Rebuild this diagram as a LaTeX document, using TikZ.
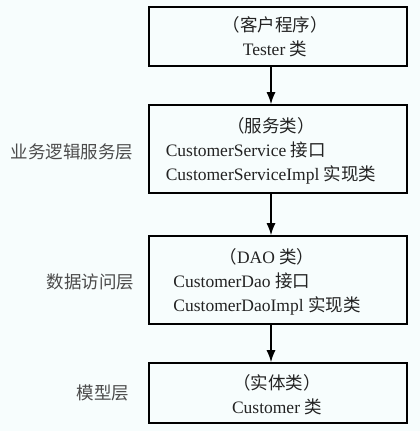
\documentclass[tikz,border=0pt]{standalone}
\usepackage{fontspec}
\setmainfont{Liberation Serif}
\newfontfamily\cjk{Noto Sans CJK SC}
\usetikzlibrary{positioning,arrows.meta}

\newcommand{\zh}[1]{{\cjk #1}}
\definecolor{bgtint}{RGB}{247,253,253}
\definecolor{inkgray}{RGB}{35,35,35}
\definecolor{labelgray}{RGB}{75,75,75}

\tikzset{
  layerbox/.style={rectangle,
      draw = black,
      line width = 1.6pt,
      minimum width = 258pt,
      inner sep = 0pt},
  boxtext/.style={inner sep = 0pt,
      text = inkgray,
      font = \fontsize{17.5}{24}\selectfont},
  layername/.style={inner sep = 0pt,
      text = labelgray,
      font = \fontsize{17.5}{24}\selectfont},
  flow/.style={-{Latex[length=12pt,width=9pt]}, line width = 1.4pt},
}

\begin{document}
\begin{tikzpicture}[x=1pt,y=-1pt]
  % background and size of the page
  \fill[bgtint] (0,0) rectangle (420,431);
  \useasboundingbox (0,0) rectangle (420,431);

  % the four layers, top to bottom
  \node[layerbox, minimum height = 59pt] (client) at (278,36.5) {};
  \node[layerbox, minimum height = 88pt] (service) at (278,149) {};
  \node[layerbox, minimum height = 88pt] (dao) at (278,280) {};
  \node[layerbox, minimum height = 60pt] (model) at (278,393) {};

  % texts inside the boxes
  \node[boxtext] (clienttxt) at (275,38.5) {%
    \begin{tabular}{@{}c@{}}
      \zh{（客户程序）}\\
      Tester \zh{类}
    \end{tabular}};
  \node[boxtext] (servicetxt) at (271,152) {%
    \begin{tabular}{@{}l@{}}
      \multicolumn{1}{@{}c@{}}{\zh{（服务类）}}\\
      CustomerService \zh{接口}\\
      CustomerServiceImpl \zh{实现类}
    \end{tabular}};
  \node[boxtext] (daotxt) at (267,283) {%
    \begin{tabular}{@{}l@{}}
      \multicolumn{1}{@{}c@{}}{\zh{（}DAO \zh{类）}}\\
      CustomerDao \zh{接口}\\
      CustomerDaoImpl \zh{实现类}
    \end{tabular}};
  \node[boxtext] (modeltxt) at (277,396.5) {%
    \begin{tabular}{@{}c@{}}
      \zh{（实体类）}\\
      Customer \zh{类}
    \end{tabular}};

  % layer names on the left
  \node[layername, left = 15pt of service, yshift = -3pt] (servicename) {\zh{业务逻辑服务层}};
  \node[layername, left = 14pt of dao, yshift = -2pt] (daoname) {\zh{数据访问层}};
  \node[layername, left = 19pt of model] (modelname) {\zh{模型层}};

  % arrows between the layers
  \coordinate (ax) at (271,0);
  \draw[flow] (client.south -| ax) -- (service.north -| ax);
  \draw[flow] (service.south -| ax) -- (dao.north -| ax);
  \draw[flow] (dao.south -| ax) -- (model.north -| ax);
\end{tikzpicture}
\end{document}
